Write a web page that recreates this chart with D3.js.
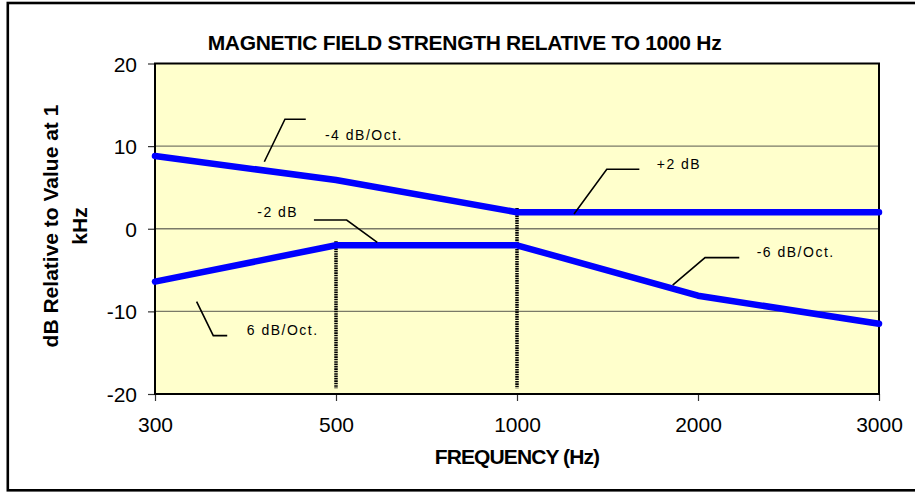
<!DOCTYPE html>
<html><head><meta charset="utf-8">
<script src="https://cdn.jsdelivr.net/npm/d3@7"></script>
<style>
html,body{margin:0;padding:0;background:#fff;}
svg{display:block;font-family:"Liberation Sans",Arial,sans-serif;}
</style></head>
<body>
<svg id="chart" width="915" height="493"></svg>
<script>
// ---- data ----
const categories = ["300", "500", "1000", "2000", "3000"];
const upperSeries = [8.8, 5.9, 2, 2, 2];
const lowerSeries = [-6.4, -2, -2, -8.1, -11.5];
const yTicks = [-20, -10, 0, 10, 20];
const gridValues = [-10, 0, 10];
// vertical drop lines: category, top value
const dropCats = ["500", "1000"];
const dropTops = [-1.5, 2.5];
const dropBottom = -19.3;
// annotations: text position (category index, dB) and connector points
const annoTexts = ["-4 dB/Oct.", "-2 dB", "+2 dB", "-6 dB/Oct.", "6 dB/Oct."];
const annoTextPos = [[0.939, 10.7], [0.565, 1.46], [2.772, 7.23], [3.324, -3.46], [0.507, -12.86]];
const annoLines = [
  [[0.604, 8.11], [0.718, 13.25], [0.833, 13.25]],
  [[0.878, 1.06], [1.059, 1.06], [1.228, -1.64]],
  [[2.315, 1.79], [2.496, 7.2], [2.676, 7.2]],
  [[2.860, -6.81], [3.039, -3.5], [3.228, -3.5]],
  [[0.230, -8.83], [0.322, -12.94], [0.399, -12.94]]
];
const titleText = "MAGNETIC FIELD STRENGTH RELATIVE TO 1000 Hz";
const xTitle = "FREQUENCY (Hz)";
const yTitleLines = ["dB Relative to Value at 1", "kHz"];

// ---- layout ----
const svg = d3.select("#chart");
const L = 155, R = 879, T = 63.5, B = 394;
const x = d3.scaleLinear().domain([0, categories.length - 1]).range([L, R]);
const y = d3.scaleLinear().domain([-20, 20]).range([B, T]);

// outer border
svg.append("rect").attr("x", 7.8).attr("y", 3).attr("width", 930).attr("height", 487.3)
  .attr("fill", "#fff").attr("stroke", "#000").attr("stroke-width", 2.6);

// plot area
svg.append("rect").attr("x", L).attr("y", T).attr("width", R - L).attr("height", B - T)
  .attr("fill", "#FFFFCC");

// gridlines
svg.append("g").selectAll("line").data(gridValues).join("line")
  .attr("x1", L).attr("x2", R).attr("y1", d => y(d)).attr("y2", d => y(d))
  .attr("stroke", "#7a7a68").attr("stroke-width", 1.3);

// axes
const yAxis = d3.axisLeft(y).tickValues(yTicks).tickSize(7).tickPadding(10).tickFormat(d => String(d));
const gy = svg.append("g").attr("transform", `translate(${L},0)`).call(yAxis);
const xAxis = d3.axisBottom(x).tickValues(d3.range(categories.length)).tickSize(7).tickPadding(16)
  .tickFormat(i => categories[i]);
const gx = svg.append("g").attr("transform", `translate(0,${B})`).call(xAxis);
[gx, gy].forEach(g => {
  g.select(".domain").remove();
  g.selectAll(".tick line").attr("stroke", "#333").attr("stroke-width", 1.2);
  g.selectAll(".tick text").attr("fill", "#000").style("font-size", "21px")
    .style("font-family", '"Liberation Sans",Arial,sans-serif');
});
gy.selectAll(".tick text").attr("x", -18).attr("dy", "0.36em");

// plot border
svg.append("rect").attr("x", L).attr("y", T).attr("width", R - L).attr("height", B - T)
  .attr("fill", "none").attr("stroke", "#000").attr("stroke-width", 2);

// drop lines (dotted)
svg.append("g").selectAll("line").data(dropCats).join("line")
  .attr("x1", d => x(categories.indexOf(d))).attr("x2", d => x(categories.indexOf(d)))
  .attr("y1", (d, i) => y(dropTops[i])).attr("y2", y(dropBottom))
  .attr("stroke", "#000").attr("stroke-width", 3.5).attr("stroke-dasharray", "1.6,0.8");

// series lines
const line = d3.line().x((d, i) => x(i)).y(d => y(d));
[upperSeries, lowerSeries].forEach(s => {
  svg.append("path").attr("d", line(s)).attr("fill", "none")
    .attr("stroke", "#0000FF").attr("stroke-width", 6.5)
    .attr("stroke-linejoin", "round").attr("stroke-linecap", "round");
});

// annotations
const cl = d3.line().x(d => x(d[0])).y(d => y(d[1]));
annoLines.forEach(pts => {
  svg.append("path").attr("d", cl(pts)).attr("fill", "none")
    .attr("stroke", "#000").attr("stroke-width", 1.6);
});
annoTexts.forEach((t, i) => {
  svg.append("text").attr("x", x(annoTextPos[i][0])).attr("y", y(annoTextPos[i][1]))
    .style("font-size", "14px").style("letter-spacing", "1.5px").attr("fill", "#000").text(t);
});

// titles
svg.append("text").attr("x", 464.5).attr("y", 50).attr("text-anchor", "middle")
  .style("font-size", "21px").style("font-weight", "bold").style("letter-spacing", "-0.3px")
  .text(titleText);
svg.append("text").attr("x", (L + R) / 2).attr("y", 464).attr("text-anchor", "middle")
  .style("font-size", "21px").style("font-weight", "bold").style("letter-spacing", "-0.9px")
  .text(xTitle);
yTitleLines.forEach((t, i) => {
  svg.append("text").attr("transform", `translate(${58 + i * 29},226) rotate(-90)`)
    .attr("text-anchor", "middle").style("font-size", "21px").style("font-weight", "bold")
    .text(t);
});
</script>
</body></html>
